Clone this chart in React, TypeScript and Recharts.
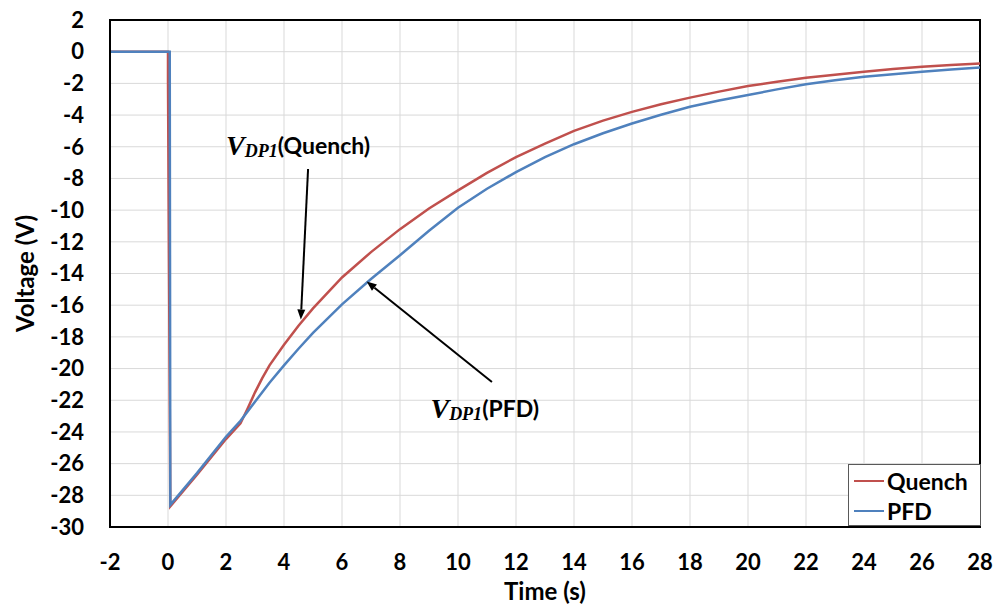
import React from 'react';
import {
  LineChart, Line, XAxis, YAxis, CartesianGrid, Legend,
  ReferenceArea, ReferenceLine, ReferenceDot,
} from 'recharts';

const quenchTime = [-2, 0, 0, 0.08, 1, 2, 2.5, 2.75, 3, 3.25, 3.5, 4, 4.5, 5, 6, 7, 8, 9, 10, 11, 12, 13, 14, 15, 16, 17, 18, 19, 20, 21, 22, 23, 24, 25, 26, 27, 28];
const quenchVoltage = [0, 0, -1.8, -28.7, -26.7, -24.45, -23.45, -22.5, -21.5, -20.6, -19.8, -18.5, -17.3, -16.2, -14.25, -12.65, -11.2, -9.9, -8.75, -7.65, -6.65, -5.8, -5.0, -4.35, -3.8, -3.32, -2.9, -2.52, -2.17, -1.9, -1.65, -1.45, -1.27, -1.1, -0.95, -0.84, -0.74];

const pfdTime = [-2, 0.06, 0.08, 1, 2, 2.5, 3, 3.5, 4, 4.5, 5, 6, 7, 8, 9, 10, 11, 12, 13, 14, 15, 16, 17, 18, 19, 20, 21, 22, 23, 24, 25, 26, 27, 28];
const pfdVoltage = [0, 0, -28.6, -26.6, -24.3, -23.3, -22.1, -20.9, -19.8, -18.75, -17.75, -15.95, -14.35, -12.85, -11.3, -9.85, -8.65, -7.6, -6.65, -5.84, -5.15, -4.53, -3.98, -3.48, -3.08, -2.74, -2.38, -2.06, -1.8, -1.58, -1.42, -1.27, -1.12, -0.99];

const xTicks = [-2, 0, 2, 4, 6, 8, 10, 12, 14, 16, 18, 20, 22, 24, 26, 28];
const yTicks = [2, 0, -2, -4, -6, -8, -10, -12, -14, -16, -18, -20, -22, -24, -26, -28, -30];

const seriesNames = ['Quench', 'PFD'];
const seriesColors = ['#c0504d', '#4f81bd'];

const quenchData = quenchTime.map((t, i) => ({ t, v: quenchVoltage[i] }));
const pfdData = pfdTime.map((t, i) => ({ t, v: pfdVoltage[i] }));

const FONT = 'Lato, "Open Sans", sans-serif';

const Arrow = (props: any) => {
  const { x1, y1, x2, y2 } = props;
  const dx = x2 - x1;
  const dy = y2 - y1;
  const len = Math.sqrt(dx * dx + dy * dy) || 1;
  const ux = dx / len;
  const uy = dy / len;
  const hl = 10;
  const hw = 4;
  const bx = x2 - ux * hl;
  const by = y2 - uy * hl;
  const p1 = `${bx - uy * hw},${by + ux * hw}`;
  const p2 = `${bx + uy * hw},${by - ux * hw}`;
  return (
    <g>
      <line x1={x1} y1={y1} x2={bx} y2={by} stroke="#000" strokeWidth={2} />
      <polygon points={`${x2},${y2} ${p1} ${p2}`} fill="#000" />
    </g>
  );
};

const makeLabel = (suffix: string) => (props: any) => {
  const { cx, cy } = props;
  return (
    <text x={cx} y={cy} dominantBaseline="central" fill="#000">
      <tspan fontFamily='"Liberation Serif", serif' fontStyle="italic" fontWeight="bold" fontSize={28}>V</tspan>
      <tspan fontFamily='"Liberation Serif", serif' fontStyle="italic" fontWeight="bold" fontSize={18} dy={6}>DP1</tspan>
      <tspan fontFamily={FONT} fontWeight="bold" fontSize={23} dy={-6}>{suffix}</tspan>
    </text>
  );
};

const LegendBox = () => (
  <div
    style={{
      width: 133,
      height: 62,
      border: '1px solid #595959',
      background: '#fff',
      fontFamily: FONT,
      fontWeight: 'bold',
      fontSize: 23,
      boxSizing: 'border-box',
      paddingTop: 1,
    }}
  >
    {seriesNames.map((n, i) => (
      <div key={n} style={{ display: 'flex', alignItems: 'center', height: 30 }}>
        <div style={{ width: 30, height: 2, background: seriesColors[i], marginLeft: 5, marginRight: 3 }} />
        <span>{n}</span>
      </div>
    ))}
  </div>
);

const YLabel = (props: any) => {
  const { viewBox } = props;
  const x = viewBox.x + 24;
  const y = viewBox.y + viewBox.height / 2;
  return (
    <text
      x={x}
      y={y}
      transform={`rotate(-90, ${x}, ${y})`}
      textAnchor="middle"
      dominantBaseline="central"
      fontFamily={FONT}
      fontWeight="bold"
      fontSize={24}
      fill="#000"
    >
      Voltage (V)
    </text>
  );
};

export default function App() {
  return (
    <div style={{ position: 'absolute', left: 0, top: 0, width: 998, height: 608, background: '#fff' }}>
      <LineChart width={998} height={608} margin={{ top: 20, right: 18, bottom: 0, left: 0 }}>
        <CartesianGrid stroke="#d9d9d9" strokeWidth={1} />
        <XAxis
          type="number"
          dataKey="t"
          domain={[-2, 28]}
          ticks={xTicks}
          allowDataOverflow
          height={81}
          tickLine={false}
          tickSize={0}
          tickMargin={27}
          axisLine={{ stroke: '#000', strokeWidth: 2 }}
          tick={{ fill: '#000', fontFamily: FONT, fontWeight: 'bold', fontSize: 22 }}
          interval={0}
          label={{
            value: 'Time (s)',
            position: 'insideBottom',
            offset: 8,
            fill: '#000',
            fontFamily: FONT,
            fontWeight: 'bold',
            fontSize: 24,
          }}
        />
        <YAxis
          type="number"
          domain={[-30, 2]}
          ticks={yTicks}
          allowDataOverflow
          width={110}
          tickLine={false}
          tickSize={0}
          tickMargin={26}
          interval={0}
          axisLine={{ stroke: '#000', strokeWidth: 2 }}
          tick={{ fill: '#000', fontFamily: FONT, fontWeight: 'bold', fontSize: 22 }}
          label={<YLabel />}
        />
        <ReferenceArea x1={-2} x2={28} y1={-30} y2={2} fill="none" stroke="#000" strokeWidth={2} />
        <Line
          data={quenchData}
          dataKey="v"
          name={seriesNames[0]}
          type="linear"
          stroke={seriesColors[0]}
          strokeWidth={2.5}
          dot={false}
          isAnimationActive={false}
        />
        <Line
          data={pfdData}
          dataKey="v"
          name={seriesNames[1]}
          type="linear"
          stroke={seriesColors[1]}
          strokeWidth={2.5}
          dot={false}
          isAnimationActive={false}
        />
        <ReferenceLine segment={[{ x: 4.83, y: -7.4 }, { x: 4.58, y: -16.9 }]} shape={Arrow} />
        <ReferenceLine segment={[{ x: 11.17, y: -20.85 }, { x: 6.85, y: -14.5 }]} shape={Arrow} />
        <ReferenceDot x={2.0} y={-5.9} r={0} shape={makeLabel('(Quench)')} />
        <ReferenceDot x={9.05} y={-22.5} r={0} shape={makeLabel('(PFD)')} />
        <Legend
          layout="horizontal"
          verticalAlign="middle"
          align="center"
          content={<LegendBox />}
          wrapperStyle={{ position: 'absolute', left: 848, top: 464, width: 133, height: 62 }}
        />
      </LineChart>
    </div>
  );
}
